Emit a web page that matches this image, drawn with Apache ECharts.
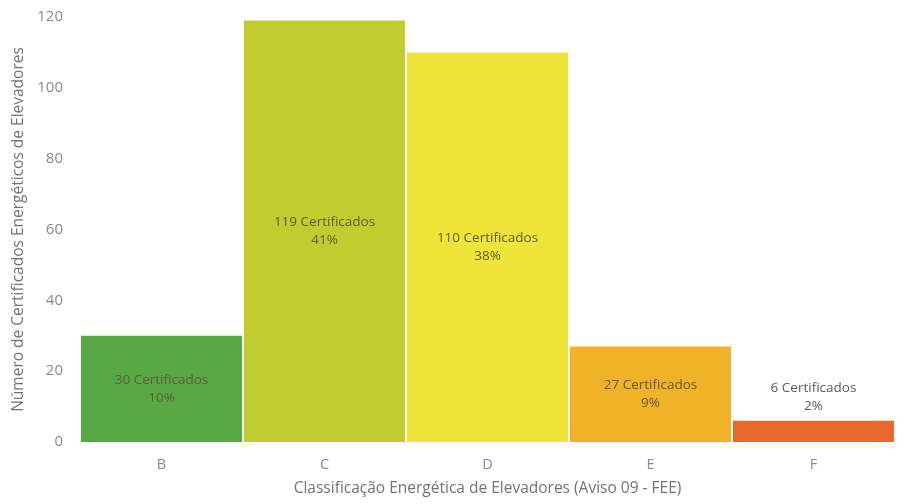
<!DOCTYPE html>
<html>
<head>
<meta charset="utf-8">
<script src="https://cdn.jsdelivr.net/npm/echarts@6/dist/echarts.min.js"></script>
<style>
  html, body { margin: 0; padding: 0; background: #ffffff; }
  #chart { width: 904px; height: 504px; }
</style>
</head>
<body>
<div id="chart"></div>
<script>
// Energy classes and number of elevator certificates per class
const classes = ['B', 'C', 'D', 'E', 'F'];
const certificates = [30, 119, 110, 27, 6];
const classColors = ['#58a946', '#c3cc2f', '#efe43a', '#efb229', '#e8672c'];
const yTicks = { min: 0, max: 120, interval: 20 };

const total = certificates.reduce((a, b) => a + b, 0);
const fontFamily = '"Open Sans", "Noto Sans", sans-serif';

const data = certificates.map((v, i) => {
  const item = {
    value: v,
    itemStyle: { color: classColors[i] }
  };
  // The smallest bar is too short to hold its label, so it sits on top
  if (v < 15) {
    item.label = { position: 'top', distance: 6, color: '#5a5a5a' };
  }
  return item;
});

const chart = echarts.init(document.getElementById('chart'));
chart.setOption({
  animation: false,
  backgroundColor: '#ffffff',
  grid: { left: 80, right: 9, top: 17, bottom: 62, outerBoundsMode: 'none', containLabel: false },
  xAxis: {
    type: 'category',
    data: classes,
    name: 'Classificação Energética de Elevadores (Aviso 09 - FEE)',
    nameLocation: 'middle',
    nameGap: 39,
    nameTextStyle: { color: '#737373', fontSize: 15.5, fontFamily },
    axisLine: { show: false },
    axisTick: { show: false },
    axisLabel: { color: '#8a8a8a', fontSize: 14.5, fontFamily, margin: 15 }
  },
  yAxis: {
    type: 'value',
    min: yTicks.min,
    max: yTicks.max,
    interval: yTicks.interval,
    name: 'Número de Certificados Energéticos de Elevadores',
    nameLocation: 'middle',
    nameGap: 53,
    nameTextStyle: { color: '#737373', fontSize: 15.5, fontFamily },
    axisLine: { show: false },
    axisTick: { show: false },
    splitLine: { show: false },
    axisLabel: { color: '#8a8a8a', fontSize: 15, fontFamily, margin: 17 }
  },
  series: [{
    type: 'bar',
    data: data,
    barCategoryGap: '1.2%',
    label: {
      show: true,
      position: 'inside',
      color: '#5d5d3a',
      fontSize: 13.5,
      fontFamily,
      lineHeight: 18,
      formatter: p => p.value + ' Certificados\n' + Math.round(p.value / total * 100) + '%'
    }
  }]
});
</script>
</body>
</html>
